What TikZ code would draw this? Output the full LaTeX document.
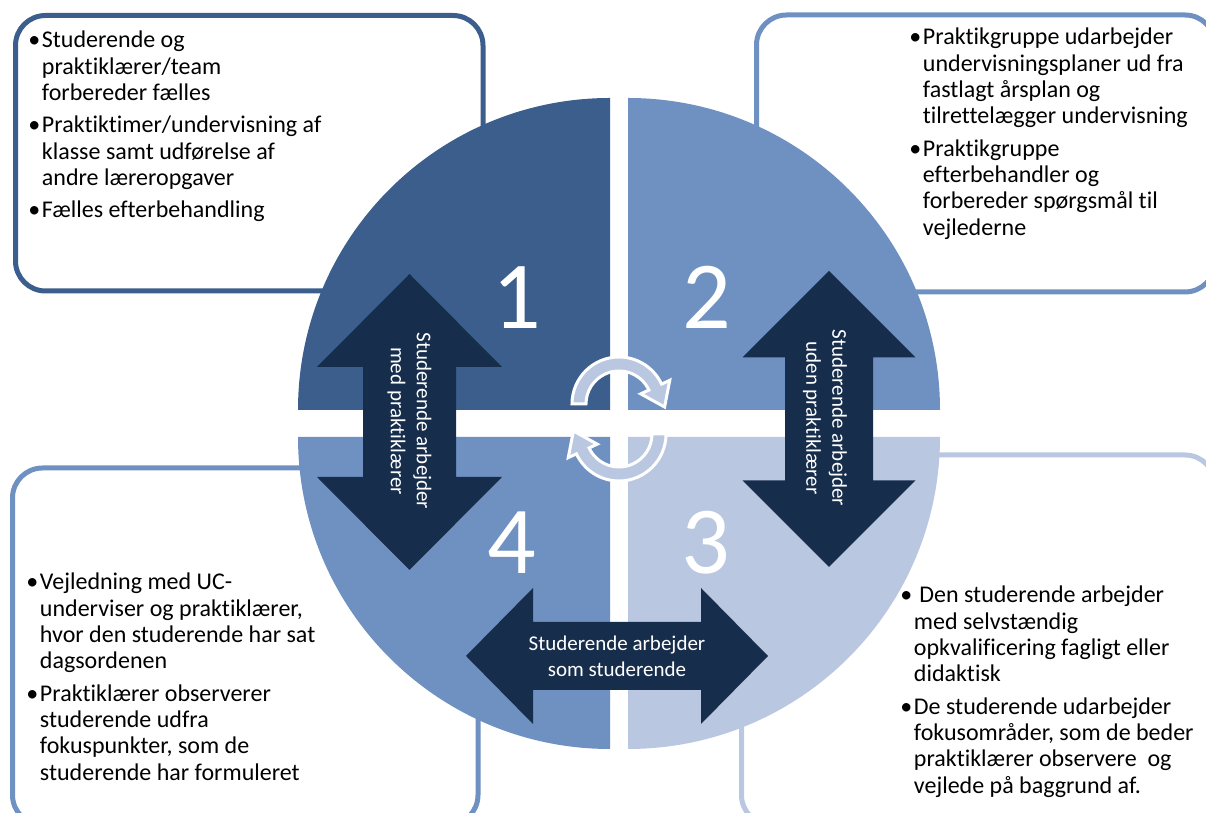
\documentclass[tikz,border=0pt]{standalone}
\usepackage{fontspec}
\setmainfont{Carlito}[Ligatures=NoCommon]
\usetikzlibrary{calc}
\definecolor{qdark}{HTML}{3B5E8C}
\definecolor{qmid}{HTML}{6F91C2}
\definecolor{qlight}{HTML}{B9C7E0}
\definecolor{arr}{HTML}{172D4C}
\tikzset{box/.style={line width=2.5pt,rounded corners=15pt}}
\tikzset{l/.style={font=\fontsize{12}{13.15}\selectfont,anchor=base west,inner sep=0pt}}
\tikzset{m/.style={font=\fontsize{10.5}{13}\selectfont,text=white,align=center,inner sep=0pt}}
\tikzset{n/.style={font=\fontsize{48}{48}\selectfont,text=white,inner sep=0pt}}
\tikzset{c/.style={fill=qlight,draw=white,line width=1.5pt}}

\begin{document}
\begin{tikzpicture}[x=0.5pt,y=0.5pt]
        \useasboundingbox (0,0) rectangle (1206,813);
        \clip (0,0) rectangle (1206,813);
        % text boxes
        \draw[box,qdark] (15.5,522) rectangle (483,797.5);
        \draw[box,qmid] (756.5,521) rectangle (1215,798);
        \draw[box,qmid] (12.5,-12) rectangle (478,345);
        \draw[box,qlight] (741.5,-12) rectangle (1215,358);
        % quadrants
        \fill[qdark] (610,403) -- (298,403) arc[start angle=180,end angle=90,radius=312] -- cycle;
        \fill[qmid] (628,403) -- (628,715) arc[start angle=90,end angle=0,radius=312] -- cycle;
        \fill[qlight] (628,376) -- (940,376) arc[start angle=0,end angle=-90,radius=312] -- cycle;
        \fill[qmid] (610,376) -- (610,64) arc[start angle=-90,end angle=-180,radius=312] -- cycle;
        % double arrows
        \fill[arr] (409.5,539) -- (502,446) -- (456,446) -- (456,336) -- (502,336) -- (409.5,243)
          -- (317,336) -- (363,336) -- (363,446) -- (317,446) -- cycle;
        \fill[arr] (829,542) -- (915.5,455.5) -- (873,455.5) -- (873,332.5) -- (915.5,332.5) -- (829,246)
          -- (742.5,332.5) -- (785,332.5) -- (785,455.5) -- (742.5,455.5) -- cycle;
        \fill[arr] (466,157) -- (533,225) -- (533,191) -- (701,191) -- (701,225) -- (768,157)
          -- (701,89) -- (701,123) -- (533,123) -- (533,89) -- cycle;
        % circular arrows
        \begin{scope}[shift={(619,409)}]
          \filldraw[c] (180:47) arc[start angle=180,end angle=25,radius=47] -- (25:56) -- (45.6,-3)
            -- (25:24) -- (25:33) arc[start angle=25,end angle=180,radius=33] -- cycle;
        \end{scope}
        \begin{scope}[shift={(619,379)},rotate=180]
          \filldraw[c] (180:47) arc[start angle=180,end angle=25,radius=47] -- (25:56) -- (45.6,-3)
            -- (25:24) -- (25:33) arc[start angle=25,end angle=180,radius=33] -- cycle;
        \end{scope}
        % numbers
        \node[n] (n1) at (517,515.5) {1};
        \node[n] (n2) at (707,515.5) {2};
        \node[n] (n3) at (706,270) {3};
        \node[n] (n4) at (512,270) {4};
        % arrow labels
        \node[m,rotate=-90] (a1) at (409.5,392) {Studerende arbejder\\med praktiklærer};
        \node[m,rotate=-90] (a2) at (825,395) {Studerende arbejder\\uden praktiklærer};
        \node[m] (a3) at (617,157) {Studerende arbejder\\som studerende};
        % box texts
        \node[l] (t1) at (28,765) {\begin{tabular}[t]{@{}l@{\hspace{0.8pt}}l@{}}
          \textbullet & Studerende og\\ & praktiklærer/team\\ & forbereder fælles\\[3pt]
          \textbullet & Praktiktimer/undervisning af\\ & klasse samt udførelse af\\ & andre læreropgaver\\[3pt]
          \textbullet & Fælles efterbehandling
          \end{tabular}};
        \node[l] (t2) at (909,768) {\begin{tabular}[t]{@{}l@{\hspace{0.8pt}}l@{}}
          \textbullet & Praktikgruppe udarbejder\\ & undervisningsplaner ud fra\\ & fastlagt årsplan og\\ & tilrettelægger undervisning\\[3pt]
          \textbullet & Praktikgruppe\\ & efterbehandler og\\ & forbereder spørgsmål til\\ & vejlederne
          \end{tabular}};
        \node[l] (t3) at (26,223) {\begin{tabular}[t]{@{}l@{\hspace{0.8pt}}l@{}}
          \textbullet & Vejledning med UC-\\ & underviser og praktiklærer,\\ & hvor den studerende har sat\\ & dagsordenen\\[3pt]
          \textbullet & Praktiklærer observerer\\ & studerende udfra\\ & fokuspunkter, som de\\ & studerende har formuleret
          \end{tabular}};
        \node[l] (t4) at (900,210) {\begin{tabular}[t]{@{}l@{\hspace{0.8pt}}l@{}}
          \textbullet & \ Den studerende arbejder\\ & med selvstændig\\ & opkvalificering fagligt eller\\ & didaktisk\\[3pt]
          \textbullet & De studerende udarbejder\\ & fokusområder, som de beder\\ & praktiklærer observere\ \ og\\ & vejlede på baggrund af.
          \end{tabular}};
      \end{tikzpicture}
\end{document}
